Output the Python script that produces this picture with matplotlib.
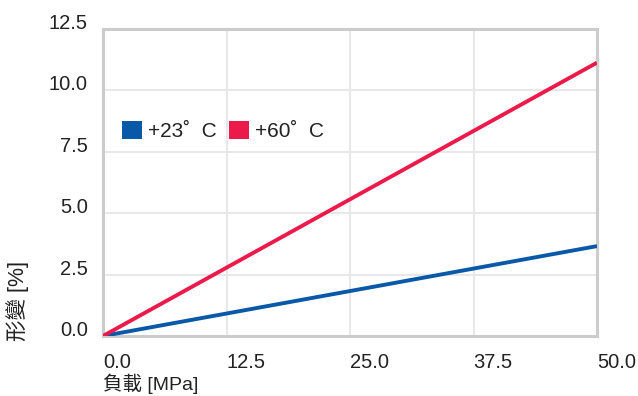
import matplotlib
matplotlib.use('Agg')
import matplotlib.pyplot as plt
from matplotlib.patches import Patch

plt.rcParams['font.family'] = ['Liberation Sans', 'Noto Sans CJK TC', 'DejaVu Sans']

# data
load_mpa = [0.0, 50.0]
strain_23 = [0.0, 3.66]
strain_60 = [0.0, 11.13]
series_labels = ['+23˚  C', '+60˚  C']
x_ticks = [0.0, 12.5, 25.0, 37.5, 50.0]
y_ticks = [0.0, 2.5, 5.0, 7.5, 10.0, 12.5]
x_label = '負載 [MPa]'
y_label = '形變 [%]'

blue = '#0a58a8'
red = '#ec1a4b'
text_color = '#222222'

fig = plt.figure(figsize=(6.38, 3.96), dpi=100)
ax = fig.add_axes([103 / 638, 1 - 336 / 396, 494 / 638, 307 / 396])

ax.plot(load_mpa, strain_23, color=blue, lw=2.8, solid_capstyle='butt', zorder=3)
ax.plot(load_mpa, strain_60, color=red, lw=2.8, solid_capstyle='butt', zorder=3)

ax.set_xlim(x_ticks[0], x_ticks[-1])
ax.set_ylim(y_ticks[0], y_ticks[-1])
ax.set_xticks(x_ticks)
ax.set_yticks(y_ticks)
ax.set_xticklabels([f'{v:.1f}' for v in x_ticks])
ax.set_yticklabels([f'{v:.1f}' for v in y_ticks])
ax.tick_params(axis='both', length=0, labelsize=14.5, labelcolor=text_color)
ax.tick_params(axis='x', pad=12)
ax.tick_params(axis='y', pad=11)
for lab in ax.get_xticklabels():
    lab.set_ha('left')
for lab in ax.get_yticklabels():
    lab.set_va('baseline')

ax.grid(True, color='#e8e8e8', lw=1.5)
ax.set_axisbelow(True)
for side in ['left', 'right', 'top', 'bottom']:
    ax.spines[side].set_color('#cccccc')
    ax.spines[side].set_linewidth(2.2)

handles = [Patch(facecolor=blue, edgecolor='none'), Patch(facecolor=red, edgecolor='none')]
ax.legend(handles, series_labels, loc='center left', bbox_to_anchor=(0.0385, 0.668),
          ncol=2, frameon=False, fontsize=15, handlelength=0.95, handleheight=0.95,
          handletextpad=0.3, columnspacing=0.6, borderpad=0, borderaxespad=0,
          labelcolor=text_color)

fig.text(103 / 638, 0.004, x_label, ha='left', va='bottom', fontsize=14, color=text_color)
fig.text(18 / 638, 1 - 341 / 396, y_label, ha='center', va='bottom', rotation=90,
         fontsize=15.5, color=text_color)

fig.savefig('out.png', dpi=100)
